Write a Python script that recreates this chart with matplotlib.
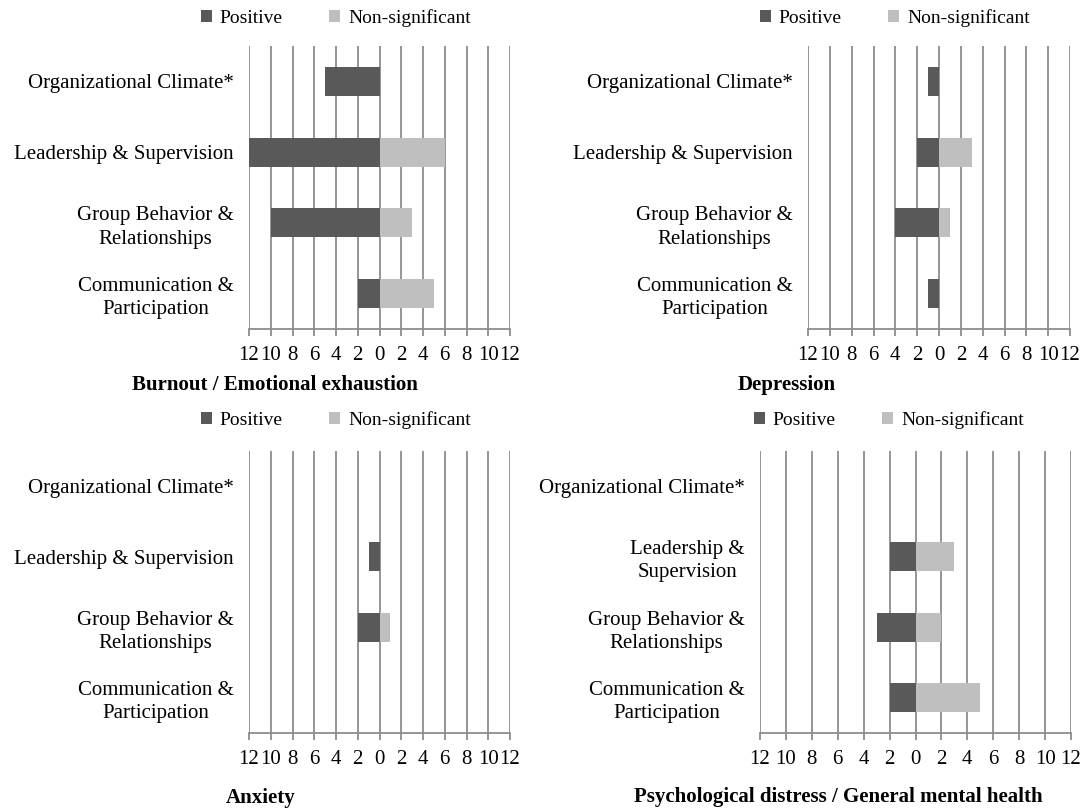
"""
Work-environment factors vs. mental-health outcomes: number of studies
with positive vs. non-significant associations (four diverging bar panels)
"""

import matplotlib
matplotlib.use('Agg')
import matplotlib.pyplot as plt
from matplotlib.patches import Patch

plt.rcParams['font.family'] = ['Liberation Serif', 'DejaVu Serif']

# Categories, top to bottom
cats_a = ['Organizational Climate*', 'Leadership & Supervision',
          'Group Behavior &\nRelationships', 'Communication &\nParticipation']
cats_b = ['Organizational Climate*', 'Leadership &\nSupervision',
          'Group Behavior &\nRelationships', 'Communication &\nParticipation']

# Counts per outcome (same category order)
burnout_pos = [5, 12, 10, 2]
burnout_ns = [0, 6, 3, 5]
depression_pos = [1, 2, 4, 1]
depression_ns = [0, 3, 1, 0]
anxiety_pos = [0, 1, 2, 0]
anxiety_ns = [0, 0, 1, 0]
distress_pos = [0, 2, 3, 2]
distress_ns = [0, 3, 2, 5]

ticks = list(range(-12, 13, 2))
tick_labels = [str(abs(t)) for t in ticks]

DARK = '#595959'
LIGHT = '#bfbfbf'
GRID = '#8c8c8c'
FS = 15

W, H = 1086, 810
fig = plt.figure(figsize=(W / 100, H / 100), dpi=100)


def px_axes(x0, x1, y0, y1):
    return fig.add_axes([x0 / W, 1 - y1 / H, (x1 - x0) / W, (y1 - y0) / H])


panels = [
    # (axes box px, cats, pos, ns, title, title xy px, legend center px)
    ((249, 510, 46, 329), cats_a, burnout_pos, burnout_ns,
     'Burnout / Emotional exhaustion', (275, 385), (336, 18)),
    ((808, 1070, 46, 329), cats_a, depression_pos, depression_ns,
     'Depression', (787, 385), (895, 18)),
    ((249, 510, 451, 733), cats_a, anxiety_pos, anxiety_ns,
     'Anxiety', (261, 798), (336, 420)),
    ((760, 1071, 451, 733), cats_b, distress_pos, distress_ns,
     'Psychological distress / General mental health', (838, 797), (889, 420)),
]

for box, cats, pos, ns, title, tpos, lpos in panels:
    ax = px_axes(*box)
    y = list(range(len(cats)))

    # vertical grid lines at every 2 units
    for t in ticks:
        ax.axvline(t, color=GRID, lw=1.3, zorder=1)

    ax.barh(y, [-v for v in pos], height=0.41, color=DARK, linewidth=0,
            zorder=3)
    ax.barh(y, ns, height=0.41, color=LIGHT, linewidth=0, zorder=3)

    ax.set_xlim(-12, 12)
    ax.set_ylim(len(cats) - 0.5, -0.5)
    ax.set_xticks(ticks)
    ax.set_xticklabels(tick_labels, fontsize=FS)
    ax.set_yticks(y)
    ax.set_yticklabels(cats, fontsize=FS, multialignment='center',
                       linespacing=1.3)

    ax.tick_params(axis='x', direction='out', length=5, width=1.3,
                   color=GRID, pad=7)
    ax.tick_params(axis='y', length=0, pad=11)
    for s in ['top', 'right', 'left']:
        ax.spines[s].set_visible(False)
    ax.spines['bottom'].set_color(GRID)
    ax.spines['bottom'].set_linewidth(1.3)

    fig.text(tpos[0] / W, 1 - tpos[1] / H, title, fontsize=FS,
             fontweight='bold', ha='center', va='center')

    handles = [Patch(facecolor=DARK, label='Positive'),
               Patch(facecolor=LIGHT, label='Non-significant')]
    fig.legend(handles=handles, loc='center', ncol=2, frameon=False,
               bbox_to_anchor=(lpos[0] / W, 1 - lpos[1] / H),
               fontsize=14, handlelength=0.55, handleheight=0.55,
               handletextpad=0.4, columnspacing=2.4)

plt.savefig('out.png', dpi=100)
plt.close()
